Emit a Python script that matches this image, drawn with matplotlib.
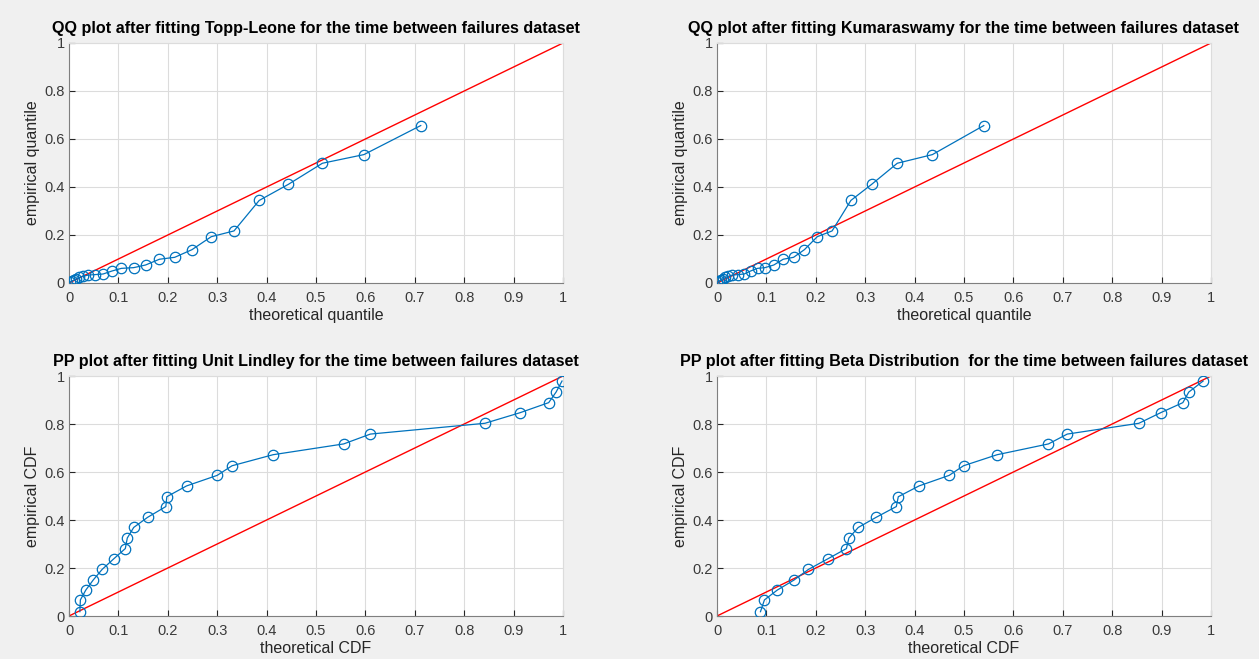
import matplotlib
matplotlib.use("Agg")
import matplotlib.pyplot as plt
import numpy as np

plt.rcParams['font.family'] = ['Liberation Sans', 'DejaVu Sans']

# Sorted data (empirical quantiles)
emp_quantile = [0.004, 0.008, 0.013, 0.018, 0.023, 0.028, 0.033, 0.035, 0.0375, 0.050,
                0.061, 0.064, 0.075, 0.099, 0.107, 0.139, 0.193, 0.217, 0.344, 0.411,
                0.499, 0.535, 0.656]
tl_quantile = [0.002, 0.006, 0.010, 0.015, 0.020, 0.028, 0.039, 0.053, 0.069, 0.087,
               0.106, 0.131, 0.155, 0.183, 0.214, 0.249, 0.288, 0.334, 0.385, 0.444,
               0.513, 0.597, 0.712]
kw_quantile = [0.001, 0.004, 0.008, 0.012, 0.017, 0.023, 0.031, 0.042, 0.055, 0.068,
               0.082, 0.097, 0.115, 0.134, 0.155, 0.177, 0.203, 0.233, 0.271, 0.313,
               0.365, 0.436, 0.540]

emp_cdf = [0.018, 0.067, 0.108, 0.150, 0.194, 0.239, 0.281, 0.325, 0.369, 0.411,
           0.456, 0.497, 0.542, 0.586, 0.626, 0.672, 0.717, 0.758, 0.803, 0.847,
           0.889, 0.933, 0.979]
ul_cdf = [0.022, 0.023, 0.034, 0.049, 0.067, 0.091, 0.114, 0.118, 0.131, 0.159,
          0.196, 0.198, 0.238, 0.300, 0.330, 0.413, 0.556, 0.610, 0.842, 0.913,
          0.971, 0.986, 0.998]
beta_cdf = [0.088, 0.096, 0.122, 0.156, 0.185, 0.225, 0.262, 0.267, 0.286, 0.322,
            0.363, 0.367, 0.409, 0.470, 0.499, 0.567, 0.671, 0.709, 0.854, 0.898,
            0.943, 0.955, 0.984]

ref_line = [0, 1]

titles = ["QQ plot after fitting Topp-Leone for the time between failures dataset",
          "QQ plot after fitting Kumaraswamy for the time between failures dataset",
          "PP plot after fitting Unit Lindley for the time between failures dataset",
          "PP plot after fitting Beta Distribution  for the time between failures dataset"]
xlabels = ["theoretical quantile", "theoretical quantile", "theoretical CDF", "theoretical CDF"]
ylabels = ["empirical quantile", "empirical quantile", "empirical CDF", "empirical CDF"]
xs = [tl_quantile, kw_quantile, ul_cdf, beta_cdf]
ys = [emp_quantile, emp_quantile, emp_cdf, emp_cdf]

W, H = 1259, 659
fig = plt.figure(figsize=(W / 100, H / 100), dpi=100)
fig.patch.set_facecolor('#f0f0f0')

# axes rects in pixels: left, top, right, bottom
rects = [(69, 43, 563, 283), (717, 43, 1211, 283),
         (69, 376, 563, 616), (717, 376, 1211, 616)]

xticks = np.arange(0, 1.01, 0.1)
yticks = np.arange(0, 1.01, 0.2)

for i, (l, t, r, b) in enumerate(rects):
    ax = fig.add_axes([l / W, 1 - b / H, (r - l) / W, (b - t) / H])
    ax.set_facecolor('white')
    ax.plot(ref_line, ref_line, color='red', lw=1.0, zorder=2)
    ax.plot(xs[i], ys[i], color='#0072BD', lw=0.9, marker='o', markersize=7.5,
            markerfacecolor='none', markeredgecolor='#0072BD', markeredgewidth=0.9, zorder=3)
    ax.set_xlim(0, 1)
    ax.set_ylim(0, 1)
    ax.set_xticks(xticks)
    ax.set_xticklabels([f"{v:g}" for v in np.round(xticks, 1)])
    ax.set_yticks(yticks)
    ax.set_yticklabels([f"{v:g}" for v in np.round(yticks, 1)])
    ax.grid(True, color='#dcdcdc', lw=0.8)
    ax.set_axisbelow(True)
    ax.tick_params(axis='x', direction='in', length=4, labelsize=10.5, colors='#262626',
                   labelcolor='#3a3a3a', pad=6)
    ax.tick_params(axis='y', direction='in', length=4, labelsize=10.5, colors='#262626',
                   labelcolor='#3a3a3a', pad=3)
    for s in ['left', 'bottom']:
        ax.spines[s].set_color('#7f7f7f')
        ax.spines[s].set_linewidth(0.8)
    for s in ['top', 'right']:
        ax.spines[s].set_color('#dcdcdc')
        ax.spines[s].set_linewidth(0.8)
    ax.set_title(titles[i], fontsize=11.6, fontweight='bold', color='black', pad=7)
    ax.set_xlabel(xlabels[i], fontsize=11.5, color='#262626', labelpad=2)
    ax.set_ylabel(ylabels[i], fontsize=11.5, color='#262626', labelpad=3)

fig.savefig("out.png", dpi=100, facecolor=fig.get_facecolor())
